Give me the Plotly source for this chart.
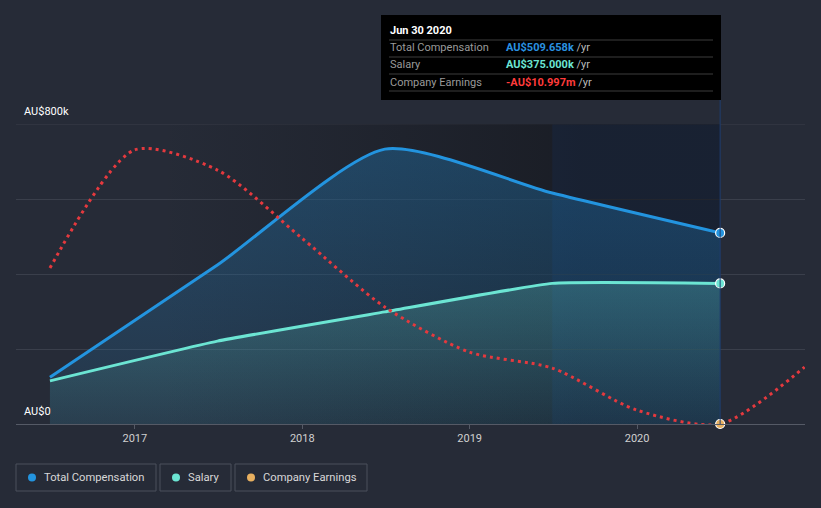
import plotly.graph_objects as go

# ---- data ----
comp_dates = ["2016-06-30", "2017-06-30", "2018-06-30", "2019-06-30", "2020-06-30"]
total_comp_k = [125, 424, 733, 616, 509.658]
salary_k = [115, 221, 299, 375, 375]

earn_dates = ["2016-06-30", "2016-12-31", "2017-06-30", "2017-12-31", "2018-06-30",
              "2018-12-31", "2019-06-30", "2019-12-31", "2020-06-30", "2020-12-31"]
earnings_m = [-3.2, 2.7, 1.7, -1.7, -5.15, -7.4, -8.2, -10.3, -10.997, -8.15]

tick_years = ["2017-01-01", "2018-01-01", "2019-01-01", "2020-01-01"]
tick_labels = ["2017", "2018", "2019", "2020"]

BG = "#262b37"
BLUE = "#2394df"
TEAL = "#6ce5d3"
RED = "#e5393e"
ORANGE = "#e8b060"
FONT = "Roboto"

W, H = 821, 508
L, R, T, B = 16, 16, 124, 84
PW, PH = W - L - R, H - T - B


def px(x):
    return (x - L) / PW


def py(y):
    return (H - B - y) / PH


fig = go.Figure()

# dark gradient background region
fig.add_trace(go.Scatter(
    x=["2017-03-01", comp_dates[-1], comp_dates[-1], "2017-03-01", "2017-03-01"],
    y=[0, 0, 800, 800, 0], mode="lines", line=dict(width=0),
    fill="toself", fillgradient=dict(type="horizontal",
                                     colorscale=[[0, "rgba(18,20,26,0)"], [0.75, "rgba(18,20,26,0.6)"], [1, "rgba(18,20,26,0.6)"]]),
    hoverinfo="skip", showlegend=False))

fig.add_trace(go.Scatter(
    x=comp_dates, y=total_comp_k, mode="lines",
    line=dict(color=BLUE, width=3, shape="spline", smoothing=0.65),
    fill="tozeroy",
    fillgradient=dict(type="vertical", colorscale=[[0, "rgba(35,148,223,0.10)"], [1, "rgba(35,148,223,0.30)"]]),
    name="Total Compensation", showlegend=False))

fig.add_trace(go.Scatter(
    x=comp_dates, y=salary_k, mode="lines",
    line=dict(color=TEAL, width=3, shape="spline", smoothing=0.35),
    fill="tozeroy",
    fillgradient=dict(type="vertical", colorscale=[[0, "rgba(113,231,214,0.05)"], [1, "rgba(113,231,214,0.22)"]]),
    name="Salary", showlegend=False))

fig.add_trace(go.Scatter(
    x=earn_dates, y=earnings_m, mode="lines", yaxis="y2",
    line=dict(color=RED, width=3, shape="spline", smoothing=0.75, dash="3px,4px"),
    name="Company Earnings", showlegend=False))

# end markers
fig.add_trace(go.Scatter(x=[comp_dates[-1]], y=[total_comp_k[-1]], mode="markers",
                         marker=dict(size=9, color=BLUE, line=dict(color="white", width=1.2)),
                         showlegend=False))
fig.add_trace(go.Scatter(x=[comp_dates[-1]], y=[salary_k[-1]], mode="markers",
                         marker=dict(size=9, color=TEAL, line=dict(color="white", width=1.2)),
                         showlegend=False))
fig.add_trace(go.Scatter(x=[earn_dates[8]], y=[earnings_m[8]], mode="markers", yaxis="y2",
                         marker=dict(size=9, color=ORANGE, line=dict(color="white", width=1.2)),
                         showlegend=False, cliponaxis=False))

shapes = []
# highlighted period
shapes.append(dict(type="rect", xref="x", yref="paper", x0=comp_dates[-2], x1=comp_dates[-1],
                   y0=0, y1=1, fillcolor="rgba(25,75,160,0.3)", line=dict(width=0), layer="below"))
shapes.append(dict(type="line", xref="x", yref="paper", x0=comp_dates[-1], x1=comp_dates[-1],
                   y0=0, y1=py(100), line=dict(color="#1f3d6e", width=1)))
# top gridline
shapes.append(dict(type="line", xref="paper", yref="y", x0=0, x1=1, y0=800, y1=800,
                   line=dict(color="#3a3f4b", width=1), layer="below"))

# tooltip
shapes.append(dict(type="rect", xref="paper", yref="paper", x0=px(381), x1=px(721),
                   y0=py(100), y1=py(15), fillcolor="#000000", line=dict(width=0)))
for yy in [40, 57, 74, 91]:
    shapes.append(dict(type="line", xref="paper", yref="paper", x0=px(389), x1=px(713),
                       y0=py(yy), y1=py(yy), line=dict(color="#3c3c3c", width=1)))

# legend boxes
for x0, x1, col, dotx in [(16, 156, BLUE, 32), (160, 231, TEAL, 176), (235, 367, ORANGE, 251)]:
    shapes.append(dict(type="rect", xref="paper", yref="paper", x0=px(x0), x1=px(x1),
                       y0=py(491), y1=py(464), fillcolor="rgba(0,0,0,0)",
                       line=dict(color="#4b505c", width=1)))
    shapes.append(dict(type="circle", xref="paper", yref="paper", xsizemode="pixel", ysizemode="pixel",
                       xanchor=px(dotx), yanchor=py(477.5), x0=-4, x1=4, y0=-4, y1=4,
                       fillcolor=col, line=dict(width=0)))

ann = []


def txt(x, y, s, size=11, color="#ffffff"):
    ann.append(dict(xref="paper", yref="paper", x=px(x), y=py(y), text=s, showarrow=False,
                    xanchor="left", yanchor="middle", font=dict(family=FONT, size=size, color=color)))


txt(22, 112, "AU$800k", 11)
txt(22, 411, "AU$0", 11)

txt(388, 30, "<b>Jun 30 2020</b>", 11)
rows = [("Total Compensation", "AU$509.658k", "#2a92e0", 48),
        ("Salary", "AU$375.000k", "#6ce5d3", 65),
        ("Company Earnings", "-AU$10.997m", "#ff3b3b", 82)]
for lab, val, col, yy in rows:
    txt(388, yy, lab, 11, "#9a9a9a")
    txt(504, yy, f"<b><span style='color:{col}'>{val}</span></b> /yr", 11, "#bbbbbb")

txt(42, 477.5, "Total Compensation", 11.2, "#d8d8d8")
txt(186, 477.5, "Salary", 11.2, "#d8d8d8")
txt(261, 477.5, "Company Earnings", 11.2, "#d8d8d8")

fig.update_layout(
    width=W, height=H, margin=dict(l=L, r=R, t=T, b=B),
    paper_bgcolor=BG, plot_bgcolor=BG,
    font=dict(family=FONT, color="#d0d0d0"),
    showlegend=False, shapes=shapes, annotations=ann,
    xaxis=dict(type="date", range=["2016-04-17", "2021-01-01"],
               tickvals=tick_years, ticktext=tick_labels,
               showgrid=False, zeroline=False, showline=True, linecolor="#555a66",
               ticks="outside", ticklen=4, tickcolor="#555a66",
               tickfont=dict(family=FONT, size=11, color="#d0d0d0")),
    yaxis=dict(range=[0, 800], dtick=200, showticklabels=False, gridcolor="#3a3f4b",
               zeroline=False, fixedrange=True),
    yaxis2=dict(range=[-10.997, 4.003], overlaying="y", visible=False, showgrid=False),
)

fig.write_html("out.html", config={"displayModeBar": False},
               post_script="document.body.style.margin='0';document.body.style.background='" + BG + "';")
